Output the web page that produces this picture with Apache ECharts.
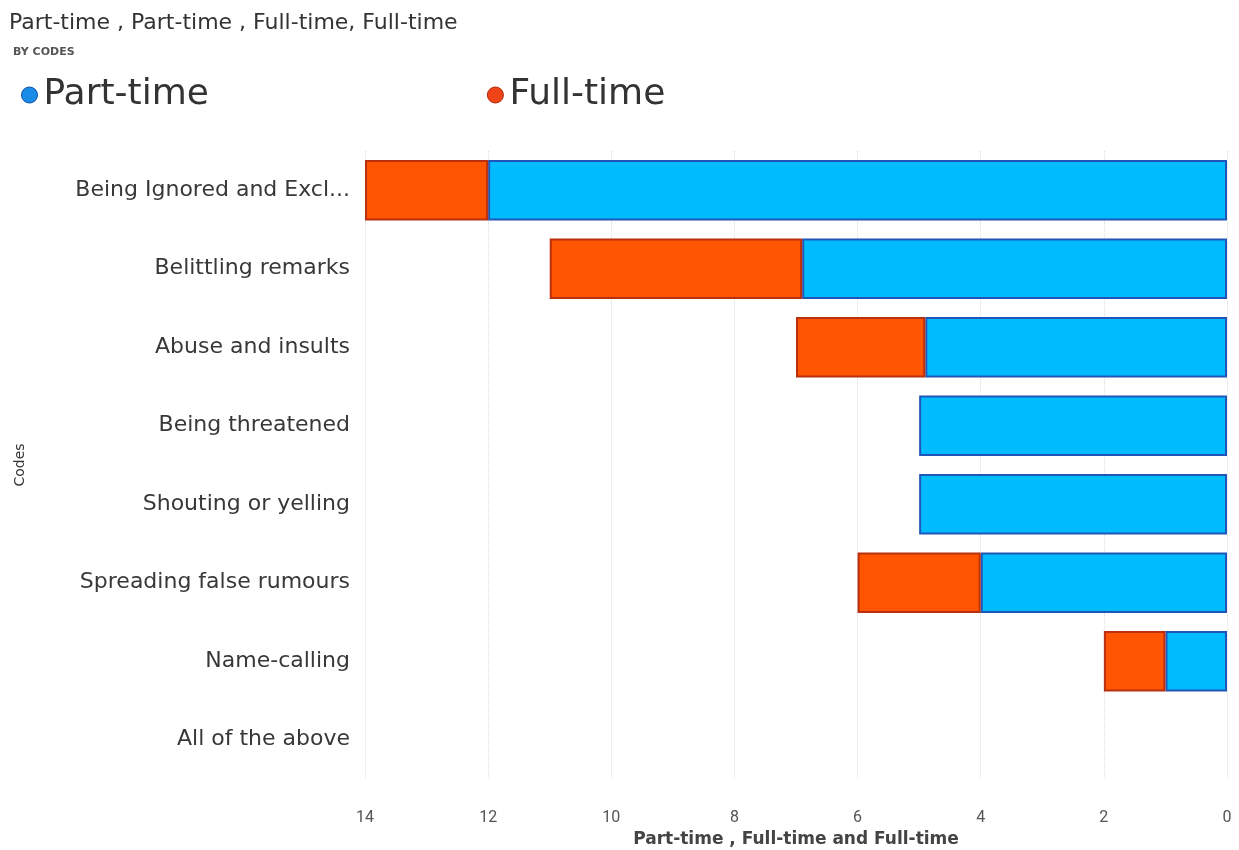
<!DOCTYPE html>
<html>
<head>
<meta charset="utf-8">
<script src="https://cdn.jsdelivr.net/npm/echarts@6/dist/echarts.min.js"></script>
<style>
  html, body { margin: 0; padding: 0; background: #fff; }
  #chart { width: 1239px; height: 850px; }
</style>
</head>
<body>
<div id="chart"></div>
<script>
// Bullying behaviours reported, split by employment type
const codes = [
  'Being Ignored and Excl...',
  'Belittling remarks',
  'Abuse and insults',
  'Being threatened',
  'Shouting or yelling',
  'Spreading false rumours',
  'Name-calling',
  'All of the above'
];
const partTime = [12, 6.9, 4.9, 5, 5, 4, 1, 0];
const fullTime = [2, 4.1, 2.1, 0, 0, 2, 1, 0];
const xTicks = { min: 0, max: 14, step: 2 };

const FONT = '"DejaVu Sans", "Open Sans", sans-serif';

// empty segments are left out so no bordered sliver is drawn for them
const segment = arr => arr.map(v => (v === 0 ? null : v));

const chart = echarts.init(document.getElementById('chart'));
chart.setOption({
  animation: false,
  backgroundColor: '#ffffff',
  title: [
    {
      text: 'Part-time , Part-time , Full-time, Full-time',
      left: 4, top: 7,
      textStyle: { fontFamily: FONT, fontSize: 22, fontWeight: 'normal', color: '#333' }
    },
    {
      text: 'BY CODES',
      left: 8, top: 42,
      textStyle: { fontFamily: FONT, fontSize: 11, fontWeight: 'bold', color: '#555' }
    }
  ],
  legend: {
    left: 16, top: 72,
    icon: 'circle',
    itemWidth: 16, itemHeight: 16,
    itemGap: 278,
    textStyle: { fontFamily: FONT, fontSize: 36, color: '#333', padding: [0, 0, 0, 1] },
    data: [
      { name: 'Part-time', itemStyle: { color: '#1a8be6', borderColor: '#0f4fa8', borderWidth: 1 } },
      { name: 'Full-time', itemStyle: { color: '#ee4418', borderColor: '#b0280a', borderWidth: 1 } }
    ]
  },
  grid: { left: 365, right: 12, top: 151, bottom: 71, containLabel: false, outerBoundsMode: 'none' },
  xAxis: {
    type: 'value',
    inverse: true,
    min: xTicks.min, max: xTicks.max, interval: xTicks.step,
    name: 'Part-time , Full-time and Full-time',
    nameLocation: 'middle',
    nameGap: 51,
    nameTextStyle: { fontFamily: FONT, fontSize: 17, color: '#444', fontWeight: 'bold' },
    axisLine: { show: false },
    axisTick: { show: false },
    axisLabel: { fontFamily: '"Liberation Sans Narrow", "Roboto", sans-serif', fontSize: 16, color: '#555', margin: 31 },
    splitLine: { show: true, lineStyle: { color: '#dcdcdc', type: 'dotted', width: 1 } }
  },
  yAxis: {
    type: 'category',
    inverse: true,
    data: codes,
    name: 'Codes',
    nameLocation: 'middle',
    nameGap: 338,
    nameRotate: 90,
    nameTextStyle: { fontFamily: FONT, fontSize: 14, color: '#333' },
    axisLine: { show: false },
    axisTick: { show: false },
    axisLabel: { fontFamily: FONT, fontSize: 22, color: '#383838', margin: 15 }
  },
  series: [
    {
      name: 'Part-time',
      type: 'bar',
      stack: 'total',
      barWidth: '77%',
      data: segment(partTime),
      itemStyle: { color: '#00bcff', borderColor: '#1f56b8', borderWidth: 2 }
    },
    {
      name: 'Full-time',
      type: 'bar',
      stack: 'total',
      barWidth: '77%',
      data: segment(fullTime),
      itemStyle: { color: '#ff5500', borderColor: '#b8300e', borderWidth: 2 }
    }
  ]
});
</script>
</body>
</html>
